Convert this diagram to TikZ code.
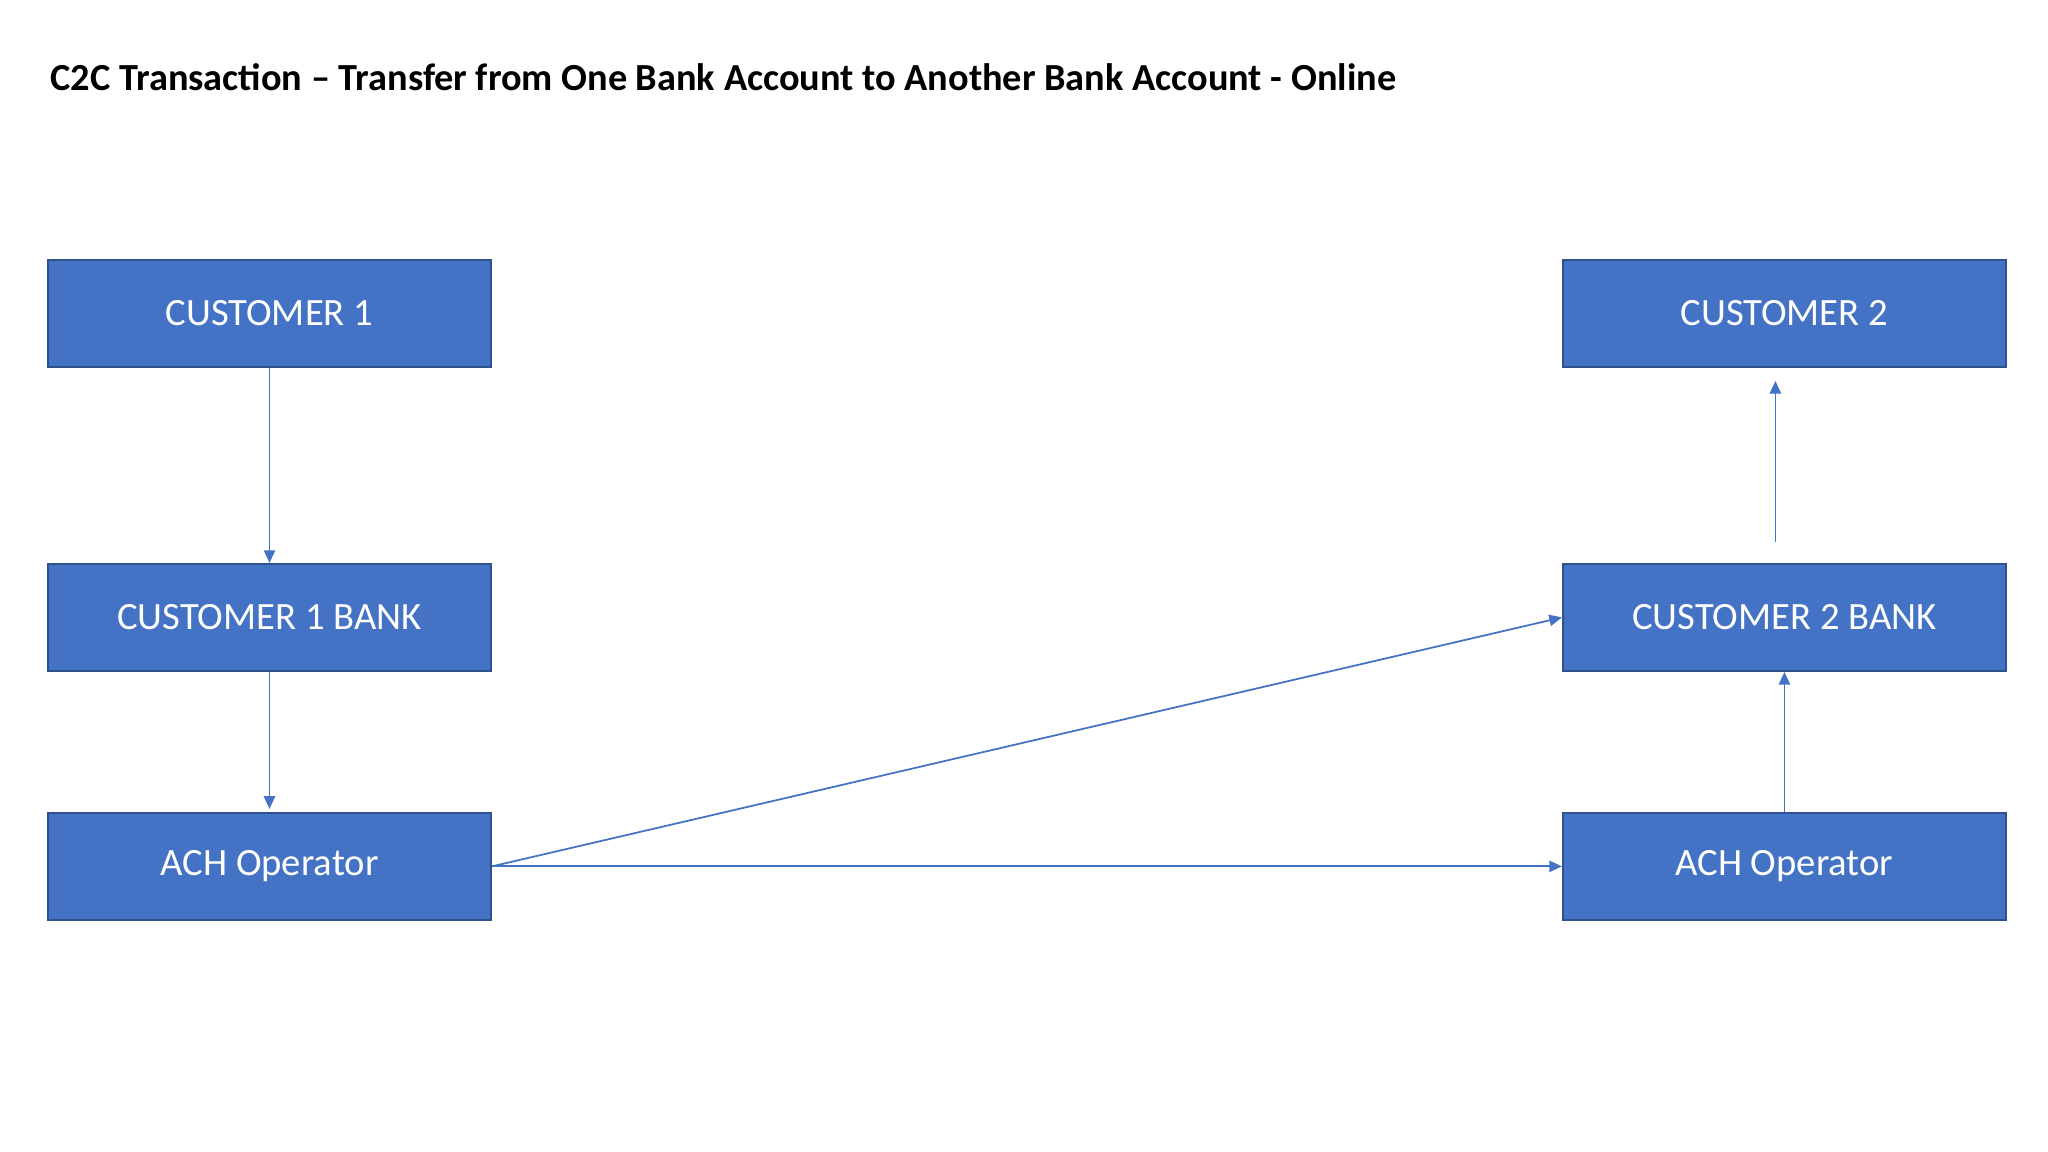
\documentclass[tikz,border=0pt]{standalone}
\usepackage{fontspec}
\setmainfont{Carlito}
\usepackage{xcolor}
\usetikzlibrary{positioning, arrows.meta}
\definecolor{boxblue}{HTML}{4472C4}
\definecolor{boxedge}{HTML}{2F528F}

\begin{document}
\begin{tikzpicture}[
    node distance=1.95cm and 10.70cm,
    block/.style={rectangle, draw=boxedge, line width=0.55pt, fill=boxblue, text=white, minimum width=4.43cm, minimum height=1.07cm, inner sep=0pt, font=\fontsize{11}{13}\selectfont},
    arrow/.style={-{Triangle[length=3.6pt, width=3.2pt]}, draw=boxblue, line width=0.5pt}
]
    \useasboundingbox (0,0) rectangle (20.48,-11.52);

    % Title
    \node[anchor=base west, inner sep=0pt, font=\bfseries\fontsize{10.9}{13}\selectfont] (title) at (0.5,-0.91) {C2C Transaction – Transfer from One Bank Account to Another Bank Account - Online};

    % Left Column - Sender
    \node[block] (cust1) at (2.695,-3.135) {CUSTOMER 1};
    \node[block, below=of cust1] (bank1) {CUSTOMER 1 BANK};
    \node[block, below=1.40cm of bank1] (ach1) {ACH Operator};

    % Right Column - Receiver
    \node[block, right=of cust1] (cust2) {CUSTOMER 2};
    \node[block, below=of cust2] (bank2) {CUSTOMER 2 BANK};
    \node[block, below=1.40cm of bank2] (ach2) {ACH Operator};

    % Free ends of the top right arrow
    \coordinate[above=0.21cm of bank2.north, xshift=-0.09cm] (upfrom);
    \coordinate[below=0.13cm of cust2.south, xshift=-0.09cm] (upto);

    % Arrows
    \draw[arrow] (cust1) -- (bank1);
    \draw[arrow, shorten >=0.03cm] (bank1) -- (ach1);
    \draw[arrow] (ach1.east) -- (bank2.west);
    \draw[arrow] (ach1) -- (ach2);
    \draw[arrow] (ach2) -- (bank2);
    \draw[arrow] (upfrom) -- (upto);

\end{tikzpicture}
\end{document}
